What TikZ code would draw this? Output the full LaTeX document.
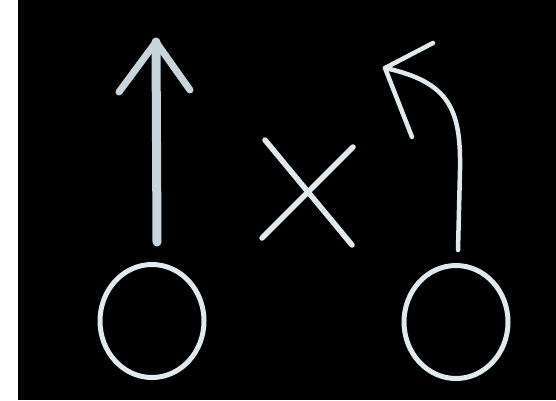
\documentclass[tikz,border=0pt]{standalone}
\usepackage{tikz}
\usetikzlibrary{positioning,shapes.geometric}
\definecolor{chalk}{RGB}{224,234,238}
\definecolor{chalkdim}{RGB}{200,213,220}

\begin{document}
\begin{tikzpicture}[x=1pt,y=-1pt,
  stroke/.style={draw=chalk,line cap=round,line join=round},
  ring/.style={stroke,ellipse,line width=5pt,minimum width=104pt,minimum height=113pt,inner sep=0pt}]
\useasboundingbox (0,0) rectangle (556,400);
\fill[black] (18,0) rectangle (556,400);
% ---- left: ring with straight arrow ----
\node[ring] (lring) at (152,321) {};
\coordinate (lbase) at (157,242);
\coordinate (ltip) at (156,42);
\coordinate (lwingA) at (119,92);
\coordinate (lwingB) at (190,90);
\draw[stroke,draw=chalkdim,line width=9pt] (lbase) -- (ltip);
\draw[stroke,draw=chalkdim,line width=7pt] (lwingA) -- (ltip) -- (lwingB);
% ---- middle: cross ----
\coordinate (xa) at (265,140);
\coordinate (xb) at (352,245);
\coordinate (xc) at (353,147);
\coordinate (xd) at (262,238);
\draw[stroke,line width=5.5pt] (xa) -- (xb);
\draw[stroke,line width=5.5pt] (xc) -- (xd);
% ---- right: ring with bent arrow ----
\node[ring] (rring) at (456,322) {};
\coordinate (rbase) at (458,250);
\coordinate (rbend) at (460,170);
\coordinate (rtip) at (385,68);
\coordinate (rwingA) at (433,43);
\coordinate (rwingB) at (412,137);
\draw[stroke,line width=4.5pt] (rbase) -- (rbend) .. controls (461,110) and (450,82) .. (rtip);
\draw[stroke,line width=4.5pt] (rwingA) -- (rtip) -- (rwingB);
\end{tikzpicture}
\end{document}
